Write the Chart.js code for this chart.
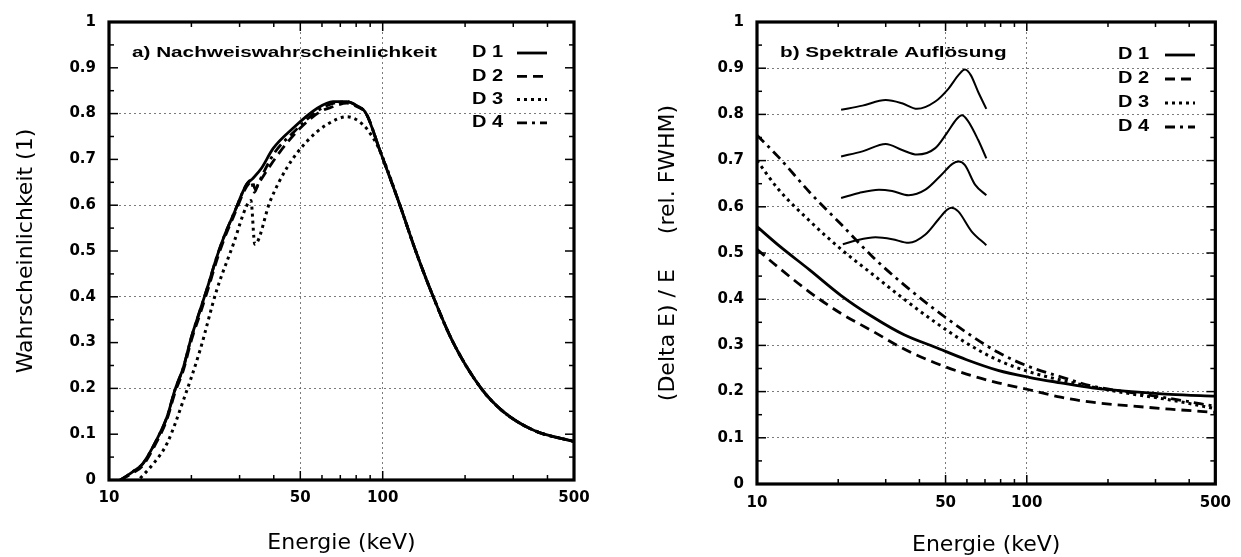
<!DOCTYPE html>
<html>
<head>
<meta charset="utf-8">
<script src="https://cdn.jsdelivr.net/npm/chart.js@4.4.1/dist/chart.umd.min.js"></script>
<style>
  html, body { margin: 0; padding: 0; background: #fff; }
  #wrap { position: relative; width: 1241px; height: 557px; }
  .panel { position: absolute; top: 0; height: 557px; }
  #panelA { left: 0; width: 620px; }
  #panelB { left: 620px; width: 621px; }
</style>
</head>
<body>
<div id="wrap">
  <div class="panel" id="panelA"><canvas id="chartA" width="620" height="557"></canvas></div>
  <div class="panel" id="panelB"><canvas id="chartB" width="621" height="557"></canvas></div>
</div>
<script>
// --- axis ticks (keV, log axis) ---
const energyTicks = [10, 20, 30, 40, 50, 60, 70, 80, 90, 100, 200, 300, 400, 500];
const energyLabels = [10, 50, 100, 500];
const energyGrid = [50, 100];

// --- a) Nachweiswahrscheinlichkeit ---
// rising edge shared by D1/D2/D4 below the K-edge
const effRiseE = [11, 12.2, 13.3, 14.9, 16.3, 17.4, 18.7, 20.0, 21.5, 23.1, 24.7, 26.5, 28.5, 31.8];
const effRiseD1 = [0, 0.018, 0.036, 0.087, 0.138, 0.196, 0.246, 0.312, 0.37, 0.428, 0.485, 0.536, 0.58, 0.645];
const effRiseD2 = [0, 0.015, 0.032, 0.082, 0.133, 0.19, 0.24, 0.305, 0.362, 0.42, 0.478, 0.53, 0.575, 0.64];
// high energy tail, identical for all detectors
const effFallE = [98, 115.6, 132, 153, 181, 229, 275, 358, 500];
const effFall = [0.717, 0.60, 0.50, 0.40, 0.30, 0.20, 0.15, 0.108, 0.084];

const effD1MidE = [33.6, 36, 39.8, 47, 57.5, 65.8, 74, 80, 87];
const effD1Mid = [0.659, 0.68, 0.724, 0.768, 0.811, 0.826, 0.826, 0.818, 0.80];
const effD2MidE = [33.4, 34.2, 35.6, 42.2, 49.9, 59, 65.8, 74, 80, 87];
const effD2Mid = [0.652, 0.635, 0.652, 0.717, 0.768, 0.804, 0.815, 0.823, 0.816, 0.80];
const effD3E = [13.0, 14.5, 16.3, 18.7, 21.5, 24.7, 28.5, 31.8, 33.0, 34.1, 38.8, 44.8, 52.8, 62.5, 74, 84.7, 92];
const effD3 = [0.004, 0.035, 0.08, 0.174, 0.283, 0.413, 0.516, 0.598, 0.61, 0.515, 0.609, 0.683, 0.739, 0.776, 0.793, 0.776, 0.748];
const effD4MidE = [33.0, 34.0, 35.0, 40, 47, 57.5, 65.8, 74, 80, 87];
const effD4Mid = [0.655, 0.628, 0.645, 0.712, 0.758, 0.805, 0.822, 0.826, 0.818, 0.80];

// --- b) Spektrale Aufloesung ---
const resE = [10, 12, 15.7, 20.5, 26.8, 35.1, 45.8, 59.8, 78.2, 102, 133.6, 174.6, 243.8, 340, 500];
const resD1 = [0.557, 0.517, 0.463, 0.408, 0.362, 0.323, 0.296, 0.269, 0.246, 0.231, 0.219, 0.208, 0.200, 0.194, 0.190];
const resD2 = [0.508, 0.469, 0.415, 0.369, 0.331, 0.292, 0.262, 0.238, 0.219, 0.204, 0.188, 0.177, 0.169, 0.162, 0.155];
const resD3 = [0.70, 0.638, 0.569, 0.508, 0.454, 0.40, 0.350, 0.305, 0.268, 0.243, 0.225, 0.210, 0.195, 0.182, 0.163];
const resD4 = [0.755, 0.708, 0.631, 0.562, 0.492, 0.431, 0.377, 0.328, 0.285, 0.254, 0.232, 0.212, 0.198, 0.185, 0.168];

// example spectra sketched inside panel b
const spec1E = [20.5, 24.6, 30.0, 34.5, 39.2, 45.8, 51.3, 56, 59, 62, 66.0, 70.8];
const spec1 = [0.810, 0.819, 0.831, 0.824, 0.812, 0.828, 0.856, 0.886, 0.897, 0.885, 0.849, 0.812];
const spec2E = [20.5, 24.6, 30.0, 34.5, 39.2, 45.8, 50.5, 55, 57.5, 60.5, 66.0, 70.8];
const spec2 = [0.709, 0.720, 0.736, 0.723, 0.713, 0.727, 0.759, 0.790, 0.798, 0.786, 0.745, 0.705];
const spec3E = [20.5, 23.9, 28.3, 31.7, 36.5, 42.1, 48.4, 53, 56, 59, 64.3, 70.8];
const spec3 = [0.619, 0.630, 0.637, 0.634, 0.625, 0.637, 0.670, 0.693, 0.698, 0.690, 0.648, 0.625];
const spec4E = [20.8, 23.2, 27.5, 31.7, 36.5, 42.1, 47.1, 50.5, 52.5, 55.7, 62.4, 70.8];
const spec4 = [0.519, 0.527, 0.534, 0.530, 0.522, 0.540, 0.573, 0.593, 0.598, 0.590, 0.547, 0.517];

const pts = (xs, ys) => xs.map((x, i) => ({ x: x, y: ys[i] }));

const lineStyles = {
  D1: [],
  D2: [10, 6],
  D3: [3, 4],
  D4: [10, 5, 3, 5]
};

function curve(label, xs, ys, dash, width) {
  return {
    label: label,
    data: pts(xs, ys),
    borderColor: '#000',
    borderWidth: width || 2.8,
    borderDash: dash,
    pointRadius: 0,
    fill: false,
    cubicInterpolationMode: 'monotone'
  };
}

// frame, inward ticks, panel caption and legend
const panelDecor = {
  id: 'panelDecor',
  afterDraw(chart, args, opts) {
    const { ctx, chartArea: a, scales } = chart;
    const seg = (x0, y0, x1, y1) => { ctx.beginPath(); ctx.moveTo(x0, y0); ctx.lineTo(x1, y1); ctx.stroke(); };
    ctx.save();
    ctx.strokeStyle = '#000';
    ctx.lineWidth = 1.5;
    ctx.setLineDash([]);
    for (let k = 1; k < 20; k++) {
      const py = scales.y.getPixelForValue(k / 20);
      const len = k % 2 === 0 ? 9 : 5;
      seg(a.left, py, a.left + len, py);
      seg(a.right, py, a.right - len, py);
    }
    energyTicks.forEach(v => {
      if (v === 10 || v === 500) return;
      const px = scales.x.getPixelForValue(v);
      const len = energyGrid.includes(v) ? 9 : 5;
      seg(px, a.bottom, px, a.bottom - len);
      seg(px, a.top, px, a.top + len);
    });
    ctx.lineWidth = 3.2;
    ctx.strokeRect(a.left, a.top, a.right - a.left, a.bottom - a.top);

    const stretched = (text, x, y, size, sx) => {
      ctx.save();
      ctx.translate(x, y);
      ctx.scale(sx, 1);
      ctx.font = 'bold ' + size + 'px "Liberation Sans", Arial, sans-serif';
      ctx.fillStyle = '#000';
      ctx.textBaseline = 'middle';
      ctx.textAlign = 'left';
      ctx.fillText(text, 0, 0);
      ctx.restore();
    };
    stretched(opts.caption, opts.captionX, opts.captionY, 15, 1.38);

    const lg = opts.legend;
    let row = 0;
    chart.data.datasets.forEach(ds => {
      if (!ds.label) return;
      const y = lg.y0 + row * lg.dy;
      stretched(ds.label, lg.textX, y, 16, 1.25);
      ctx.lineWidth = ds.borderWidth;
      ctx.setLineDash(ds.borderDash || []);
      seg(lg.lineX0, y, lg.lineX1, y);
      row++;
    });
    ctx.restore();
  }
};

const tickFont = { family: '"DejaVu Sans", sans-serif', weight: 'bold', size: 15 };
const titleFont = { family: '"DejaVu Sans", sans-serif', size: 22, lineHeight: 1.0 };
const gridColor = 'rgba(90,90,90,0.8)';

function makeOptions(cfg) {
  return {
    responsive: false,
    animation: false,
    layout: { padding: { left: 0, right: cfg.padRight, top: 20, bottom: 0 } },
    plugins: {
      legend: { display: false },
      tooltip: { enabled: false },
      panelDecor: cfg.decor
    },
    scales: {
      x: {
        type: 'logarithmic',
        min: 10,
        max: 500,
        afterBuildTicks: s => { s.ticks = energyTicks.map(v => ({ value: v })); },
        afterFit: s => { s.height = cfg.xHeight; },
        ticks: {
          autoSkip: false,
          maxRotation: 0,
          padding: cfg.xTickPad,
          color: '#000',
          font: tickFont,
          callback: v => energyLabels.includes(v) ? String(v) : ''
        },
        grid: {
          drawTicks: false,
          lineWidth: 1,
          color: c => (c.tick && energyGrid.includes(c.tick.value)) ? gridColor : 'rgba(0,0,0,0)'
        },
        border: { display: false, dash: [2, 3] },
        title: { display: true, text: 'Energie (keV)', color: '#000', font: titleFont, padding: { top: 0, bottom: cfg.xTitlePad } }
      },
      y: {
        min: 0,
        max: 1,
        afterFit: s => { s.width = cfg.yWidth; },
        ticks: {
          stepSize: 0.1,
          padding: 13,
          color: '#000',
          font: tickFont,
          callback: v => String(Math.round(v * 10) / 10)
        },
        grid: {
          drawTicks: false,
          lineWidth: 1,
          color: c => {
            const v = c.tick ? Math.round(c.tick.value * 10) / 10 : 0;
            return cfg.yGrid.includes(v) ? gridColor : 'rgba(0,0,0,0)';
          }
        },
        border: { display: false, dash: [2, 3] },
        title: { display: true, text: cfg.yTitle, color: '#000', font: titleFont, padding: { top: cfg.yTitlePad, bottom: 0 } }
      }
    }
  };
}

new Chart(document.getElementById('chartA'), {
  type: 'line',
  data: {
    datasets: [
      curve('D 1', effRiseE.concat(effD1MidE, effFallE), effRiseD1.concat(effD1Mid, effFall), lineStyles.D1),
      curve('D 2', effRiseE.concat(effD2MidE, effFallE), effRiseD2.concat(effD2Mid, effFall), lineStyles.D2),
      curve('D 3', effD3E.concat(effFallE), effD3.concat(effFall), lineStyles.D3, 3),
      curve('D 4', effRiseE.concat(effD4MidE, effFallE), effRiseD1.concat(effD4Mid, effFall), lineStyles.D4)
    ]
  },
  options: makeOptions({
    padRight: 46, xHeight: 77, yWidth: 109, xTickPad: 9, xTitlePad: 3, yTitlePad: 15,
    yGrid: [0.2, 0.4, 0.6, 0.8],
    yTitle: 'Wahrscheinlichkeit (1)',
    decor: {
      caption: 'a) Nachweiswahrscheinlichkeit', captionX: 132, captionY: 53,
      legend: { textX: 472, lineX0: 517, lineX1: 547, y0: 53, dy: 23.3 }
    }
  }),
  plugins: [panelDecor]
});

new Chart(document.getElementById('chartB'), {
  type: 'line',
  data: {
    datasets: [
      curve('D 1', resE, resD1, lineStyles.D1),
      curve('D 2', resE, resD2, lineStyles.D2),
      curve('D 3', resE, resD3, lineStyles.D3, 3),
      curve('D 4', resE, resD4, lineStyles.D4),
      curve('', spec1E, spec1, [], 2),
      curve('', spec2E, spec2, [], 2),
      curve('', spec3E, spec3, [], 2),
      curve('', spec4E, spec4, [], 2)
    ]
  },
  options: makeOptions({
    padRight: 22, xHeight: 73, yWidth: 137, xTickPad: 10, xTitlePad: 1, yTitlePad: 37,
    yGrid: [0.1, 0.2, 0.3, 0.4, 0.5, 0.6, 0.7, 0.8, 0.9],
    yTitle: '(Delta E) / E     (rel. FWHM)',
    decor: {
      caption: 'b) Spektrale Auflösung', captionX: 160, captionY: 53,
      legend: { textX: 498, lineX0: 545, lineX1: 575, y0: 55, dy: 24 }
    }
  }),
  plugins: [panelDecor]
});
</script>
</body>
</html>
